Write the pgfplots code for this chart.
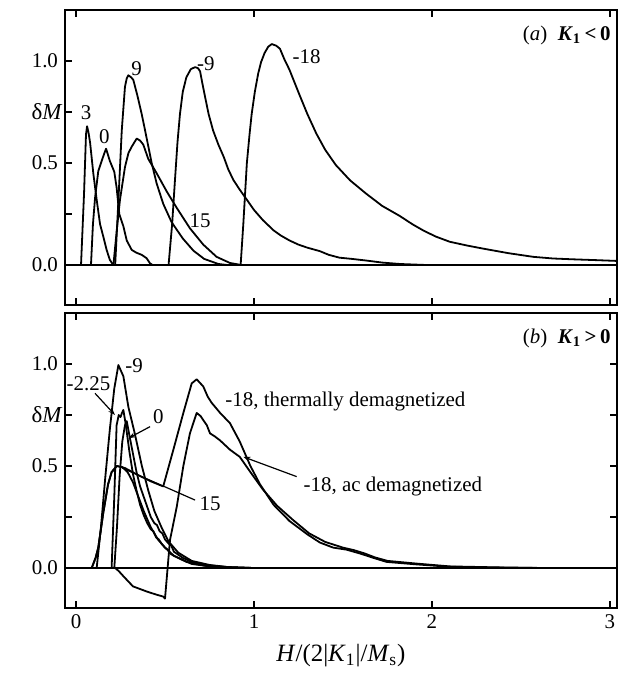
\documentclass[border=0pt]{standalone}
\usepackage{pgfplots}
\pgfplotsset{compat=1.18}
\usepackage{fontspec}
\setmainfont{Liberation Serif}
\usetikzlibrary{arrows.meta}
\newcommand{\fs}{\fontsize{10.5}{12.6}\selectfont}
\tikzset{lead/.style={black, line width=0.6bp, -{Stealth[length=3.5bp,width=2.4bp]}},
         crv/.style={black, solid, line width=0.9bp, line join=round, line cap=round}}
\pgfplotsset{
  panel/.style={
    scale only axis, width=276bp, height=147.5bp,
    xmin=-0.062, xmax=3.04, ymin=-0.196, ymax=1.25,
    xtick={0,1,2,3}, ytick={0,0.5,1}, minor ytick={0.25,0.75},
    tick align=inside, major tick length=3.5bp, minor tick length=3.5bp,
    axis line style={line width=1bp},
    every tick/.style={black, line width=0.8bp},
    yticklabel style={/pgf/number format/.cd, fixed, fixed zerofill, precision=1, assume math mode=true},
    xticklabel style={/pgf/number format/assume math mode=true},
    tick label style={font=\fs},
    clip mode=individual,
  },
}
\begin{document}
\begin{tikzpicture}
% ---------------- panel (a) ----------------
\begin{axis}[panel, at={(0,0)}, anchor=north west, xticklabels={}, ytick pos=left]
\addplot[black, line width=1.1bp, mark=none] coordinates {(-0.062,0) (3.04,0)};
% 3
\addplot[crv] coordinates {(0.028,0) (0.045,0.35) (0.056,0.64) (0.062,0.68) (0.07,0.65) (0.079,0.60) (0.097,0.45) (0.116,0.32) (0.135,0.20) (0.153,0.14) (0.172,0.074) (0.19,0.025) (0.21,0)};
% 0
\addplot[crv] coordinates {(0.084,0) (0.095,0.20) (0.107,0.33) (0.125,0.46) (0.144,0.51) (0.16,0.55) (0.169,0.57) (0.19,0.51) (0.215,0.457) (0.228,0.38) (0.243,0.25) (0.266,0.19) (0.285,0.12) (0.313,0.074) (0.34,0.06) (0.369,0.05) (0.397,0.033) (0.416,0.008) (0.43,0)};
% 9
\addplot[crv] coordinates {(0.22,0) (0.24,0.35) (0.257,0.66) (0.275,0.874) (0.285,0.915) (0.294,0.93) (0.31,0.92) (0.322,0.907) (0.345,0.83) (0.369,0.74) (0.388,0.66) (0.425,0.50) (0.453,0.40) (0.49,0.30) (0.537,0.21) (0.60,0.13) (0.66,0.07) (0.72,0.03) (0.80,0.005) (0.85,0)};
% 15
\addplot[crv] coordinates {(0.21,0) (0.23,0.18) (0.247,0.32) (0.275,0.48) (0.295,0.55) (0.313,0.58) (0.341,0.62) (0.36,0.61) (0.378,0.59) (0.406,0.52) (0.453,0.45) (0.51,0.36) (0.566,0.28) (0.64,0.18) (0.715,0.10) (0.79,0.04) (0.865,0.01) (0.93,0)};
% -9
\addplot[crv] coordinates {(0.52,0) (0.54,0.2) (0.556,0.417) (0.57,0.60) (0.584,0.74) (0.60,0.85) (0.62,0.92) (0.645,0.96) (0.669,0.97) (0.685,0.965) (0.697,0.95) (0.71,0.89) (0.725,0.825) (0.745,0.74) (0.77,0.66) (0.80,0.59) (0.83,0.53) (0.855,0.47) (0.884,0.417) (0.921,0.368) (0.96,0.32) (1.0,0.27) (1.05,0.22) (1.11,0.17) (1.15,0.145) (1.20,0.12) (1.25,0.10) (1.30,0.085) (1.37,0.068) (1.42,0.05) (1.48,0.036) (1.55,0.03) (1.63,0.022) (1.72,0.012) (1.82,0.005) (1.97,0)};
% -18
\addplot[crv] coordinates {(0.925,0) (0.94,0.2) (0.96,0.50) (0.975,0.64) (0.987,0.74) (1.005,0.85) (1.024,0.94) (1.04,0.995) (1.06,1.04) (1.08,1.07) (1.10,1.083) (1.125,1.075) (1.146,1.06) (1.17,1.01) (1.20,0.956) (1.23,0.89) (1.26,0.825) (1.30,0.74) (1.35,0.645) (1.40,0.565) (1.46,0.49) (1.54,0.415) (1.63,0.35) (1.72,0.29) (1.82,0.24) (1.89,0.20) (1.95,0.17) (2.02,0.14) (2.10,0.114) (2.20,0.095) (2.29,0.08) (2.43,0.058) (2.57,0.04) (2.68,0.032) (2.79,0.028) (2.92,0.024) (3.04,0.02)};
\node[font=\fs] at (axis cs:0.056,0.745) {3};
\node[font=\fs] at (axis cs:0.159,0.63) {0};
\node[font=\fs] at (axis cs:0.341,0.964) {9};
\node[font=\fs] at (axis cs:0.729,0.989) {-9};
\node[font=\fs] at (axis cs:1.296,1.021) {-18};
\node[font=\fs] at (axis cs:0.697,0.217) {15};
\node[font=\fs, anchor=east, inner sep=0pt] at (rel axis cs:1,1) [xshift=-3bp, yshift=-12.5bp] {(\textit{a})\enspace\textbf{\textit{K}\textsubscript{1}\,<\,0}};
\node[font=\fontsize{11.5}{13}\selectfont] at (axis cs:-0.062,0.75) [xshift=-9bp] {δ\textit{M}};
\end{axis}
% ---------------- panel (b) ----------------
\begin{axis}[panel, at={(0,-151.5bp)}, anchor=north west,
  xlabel={\textit{H}/(2|\textit{K}\textsubscript{1}|/\textit{M}\textsubscript{s})},
  xlabel style={font=\fontsize{12.5}{14}\selectfont, at={(axis description cs:0.5,0)}, anchor=center, yshift=-24bp}]
\addplot[black, line width=1.1bp, mark=none] coordinates {(-0.062,0) (3.04,0)};
% 15
\addplot[crv] coordinates {(0.088,0) (0.11,0.05) (0.125,0.10) (0.153,0.27) (0.18,0.41) (0.20,0.47) (0.229,0.50) (0.26,0.495) (0.29,0.47) (0.32,0.42) (0.35,0.35) (0.38,0.28) (0.42,0.20) (0.46,0.14) (0.50,0.10) (0.55,0.06) (0.62,0.03) (0.72,0.012) (0.85,0.003) (1.0,0)};
% -18 thermally
\addplot[crv] coordinates {(0.088,0) (0.11,0.05) (0.125,0.10) (0.153,0.27) (0.18,0.41) (0.20,0.47) (0.229,0.50) (0.275,0.49) (0.35,0.455) (0.42,0.425) (0.49,0.40) (0.547,0.58) (0.603,0.76) (0.65,0.905) (0.678,0.925) (0.715,0.89) (0.74,0.84) (0.762,0.81) (0.81,0.76) (0.865,0.71) (0.92,0.62) (0.98,0.50) (1.034,0.41) (1.11,0.31) (1.20,0.23) (1.30,0.165) (1.37,0.125) (1.445,0.10) (1.52,0.09) (1.60,0.07) (1.67,0.05) (1.745,0.03) (1.91,0.018) (2.1,0.006) (2.38,0.002) (2.64,0)};
% -18 ac
\addplot[crv] coordinates {(0.22,0) (0.24,-0.015) (0.266,-0.04) (0.32,-0.09) (0.40,-0.116) (0.45,-0.13) (0.49,-0.14) (0.50,-0.15) (0.528,0.137) (0.566,0.30) (0.603,0.50) (0.64,0.66) (0.678,0.76) (0.70,0.745) (0.715,0.725) (0.735,0.70) (0.753,0.66) (0.78,0.645) (0.81,0.625) (0.865,0.58) (0.92,0.545) (0.98,0.47) (1.05,0.385) (1.13,0.305) (1.22,0.235) (1.31,0.17) (1.40,0.128) (1.50,0.10) (1.56,0.088) (1.62,0.072) (1.68,0.052) (1.75,0.035) (1.91,0.022) (2.1,0.008) (2.38,0.003) (2.64,0)};
% -9
\addplot[crv] coordinates {(0.116,0) (0.14,0.2) (0.165,0.45) (0.19,0.68) (0.215,0.88) (0.238,0.995) (0.266,0.94) (0.294,0.79) (0.33,0.66) (0.37,0.50) (0.406,0.38) (0.44,0.28) (0.48,0.20) (0.52,0.13) (0.575,0.075) (0.65,0.035) (0.75,0.015) (0.85,0.005) (1.0,0)};
% -2.25
\addplot[crv] coordinates {(0.20,0) (0.215,0.35) (0.228,0.70) (0.24,0.75) (0.25,0.74) (0.258,0.76) (0.266,0.775) (0.28,0.70) (0.30,0.57) (0.32,0.46) (0.34,0.38) (0.36,0.31) (0.38,0.26) (0.40,0.22) (0.42,0.19) (0.435,0.18) (0.45,0.15) (0.465,0.14) (0.48,0.12) (0.50,0.10) (0.515,0.09) (0.53,0.07) (0.55,0.06) (0.60,0.04) (0.65,0.02) (0.75,0.008) (0.85,0)};
% 0
\addplot[crv] coordinates {(0.215,0) (0.23,0.2) (0.245,0.45) (0.26,0.62) (0.275,0.70) (0.285,0.72) (0.30,0.65) (0.32,0.56) (0.34,0.47) (0.36,0.40) (0.38,0.35) (0.40,0.30) (0.42,0.25) (0.44,0.22) (0.455,0.21) (0.47,0.18) (0.485,0.17) (0.50,0.14) (0.52,0.12) (0.535,0.11) (0.55,0.08) (0.60,0.05) (0.65,0.03) (0.72,0.015) (0.85,0.005) (1.0,0)};
\node[font=\fs] at (axis cs:0.326,0.99) {-9};
\node[font=\fs] at (axis cs:0.07,0.905) {-2.25};
\draw[lead] (axis cs:0.107,0.856) -- (axis cs:0.219,0.75);
\node[font=\fs] at (axis cs:0.462,0.742) {0};
\draw[lead] (axis cs:0.416,0.693) -- (axis cs:0.294,0.636);
\node[font=\fs] at (axis cs:0.753,0.317) {15};
\draw[black, line width=0.6bp] (axis cs:0.669,0.333) -- (axis cs:0.26,0.49);
\node[font=\fs, anchor=west] at (axis cs:0.80,0.815) {-18, thermally demagnetized};
\node[font=\fs, anchor=west] at (axis cs:1.24,0.40) {-18, ac demagnetized};
\draw[lead] (axis cs:1.24,0.448) -- (axis cs:0.94,0.545);
\node[font=\fs, anchor=east, inner sep=0pt] at (rel axis cs:1,1) [xshift=-3bp, yshift=-12.5bp] {(\textit{b})\enspace\textbf{\textit{K}\textsubscript{1}\,>\,0}};
\node[font=\fontsize{11.5}{13}\selectfont] at (axis cs:-0.062,0.75) [xshift=-9bp] {δ\textit{M}};
\end{axis}
\pgfresetboundingbox
\path[use as bounding box] (-32.5bp,5bp) rectangle (276.5bp,-331.5bp);
\end{tikzpicture}
\end{document}
